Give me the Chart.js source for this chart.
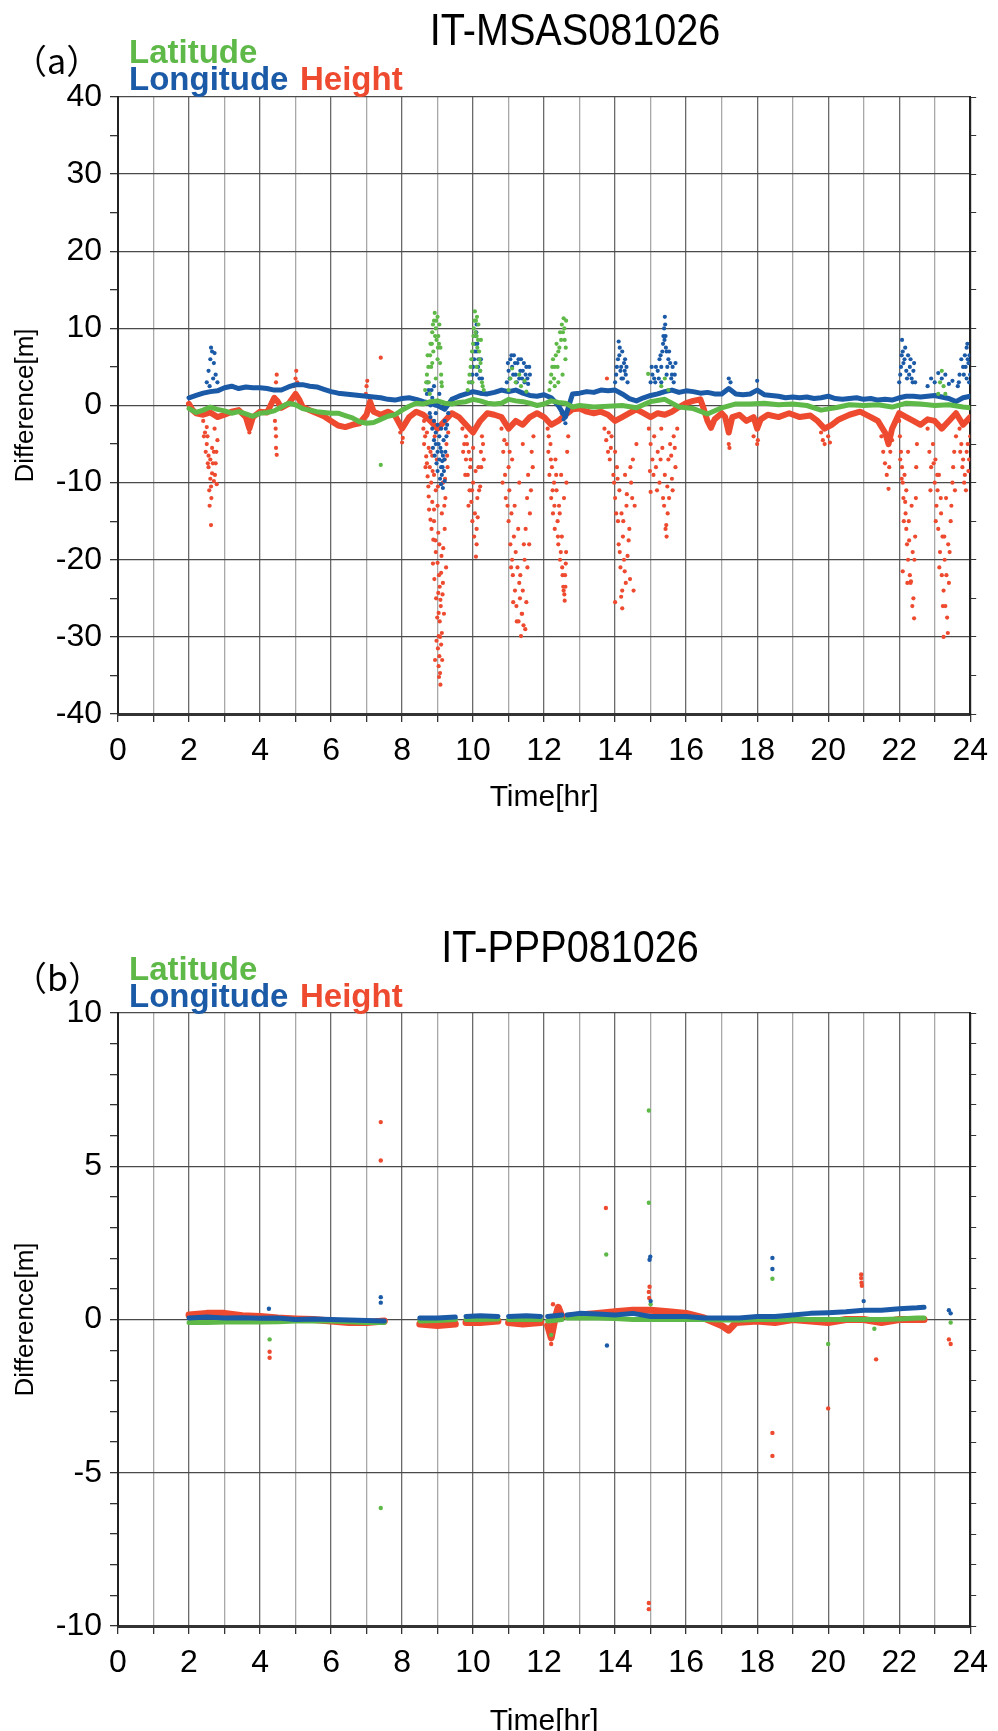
<!DOCTYPE html>
<html><head><meta charset="utf-8">
<script src="https://cdn.jsdelivr.net/npm/chart.js@4.4.0/dist/chart.umd.min.js"></script>
<style>
html,body{margin:0;padding:0;background:#fff;width:998px;height:1731px;overflow:hidden;position:relative}
canvas{position:absolute;left:0}
#c1{top:0}
#c2{top:917px}
</style></head><body>
<canvas id="c1" width="998" height="917"></canvas>
<canvas id="c2" width="998" height="830"></canvas>
<script>
// ---------- text ----------
const chartTitles = ['IT-MSAS081026', 'IT-PPP081026'];
const panelLabels = ['（a）', '（b）'];
const seriesNames = ['Latitude', 'Longitude', 'Height'];
const xAxisTitle = 'Time[hr]';
const yAxisTitle = 'Difference[m]';
// ---------- tick labels ----------
const hourLabels = [0, 2, 4, 6, 8, 10, 12, 14, 16, 18, 20, 22, 24];
const msasYLabels = [-40, -30, -20, -10, 0, 10, 20, 30, 40];
const pppYLabels = [-10, -5, 0, 5, 10];

// ---------- (a) IT-MSAS : continuous traces ----------
const msasLatLineT = [2.0,2.2,2.4,2.6,2.8,3.0,3.2,3.4,3.6,3.8,4.0,4.2,4.4,4.6,4.8,5.0,5.2,5.4,5.6,5.8,6.0,6.2,6.4,6.6,6.8,7.0,7.2,7.4,7.6,7.8,8.0,8.2,8.4,8.6,8.8,9.0,9.2,9.4,9.6,9.8,10.0,10.2,10.4,10.6,10.8,11.0,11.2,11.4,11.6,11.8,12.0,12.2,12.4,12.6,12.8,13.0,13.4,13.8,14.2,14.6,15.0,15.4,15.8,16.2,16.6,17.0,17.4,17.8,18.2,18.6,19.0,19.4,19.8,20.2,20.6,21.0,21.4,21.8,22.2,22.6,23.0,23.4,23.8,24.0];
const msasLatLineV = [-0.4,-0.9,-0.6,-0.2,-0.5,-0.7,-1.0,-0.8,-1.1,-1.4,-1.0,-0.9,-0.7,-0.2,0.3,0.1,-0.4,-0.6,-0.8,-0.9,-1.0,-1.0,-1.3,-1.6,-2.1,-2.3,-2.2,-1.8,-1.4,-1.2,-0.6,-0.1,0.3,0.2,0.5,0.6,0.3,0.2,0.4,0.5,0.8,0.6,0.3,0.2,0.3,0.8,0.6,0.5,0.3,0.0,0.2,0.6,0.4,0.3,-0.2,0.0,-0.2,-0.1,0.0,-0.3,0.5,0.8,-0.2,-0.4,-1.1,-0.3,0.2,0.2,0.3,0.1,0.2,0.0,-0.6,-0.3,0.1,0.0,0.1,-0.2,0.3,0.2,0.0,0.1,-0.2,-0.3];

const msasLonLineT = [2.0,2.2,2.4,2.6,2.8,3.0,3.2,3.4,3.6,3.8,4.0,4.2,4.4,4.6,4.8,5.0,5.2,5.4,5.6,5.8,6.0,6.2,6.4,6.6,6.8,7.0,7.2,7.4,7.6,7.8,8.0,8.2,8.4,8.6,8.8,9.0,9.2,9.4,9.6,9.8,10.0,10.2,10.4,10.6,10.8,11.0,11.2,11.4,11.6,11.8,12.0,12.2,12.4,12.6,12.8,13.0,13.2,13.4,13.6,13.8,14.0,14.2,14.4,14.6,14.8,15.0,15.2,15.4,15.6,15.8,16.0,16.2,16.4,16.6,16.8,17.0,17.2,17.4,17.6,17.8,18.0,18.2,18.4,18.6,18.8,19.0,19.2,19.4,19.6,19.8,20.0,20.2,20.4,20.6,20.8,21.0,21.2,21.4,21.6,21.8,22.0,22.2,22.4,22.6,22.8,23.0,23.2,23.4,23.6,23.8,24.0];
const msasLonLineV = [1.0,1.3,1.6,1.8,1.9,2.3,2.5,2.2,2.4,2.3,2.3,2.2,2.0,2.0,2.4,2.7,2.7,2.5,2.4,2.1,1.8,1.6,1.5,1.4,1.3,1.2,1.1,1.0,0.8,0.7,0.9,1.0,0.8,0.5,0.3,0.0,-0.5,0.8,1.2,1.5,1.8,1.6,1.5,1.7,2.0,1.8,2.0,1.6,1.3,1.2,1.4,1.0,0.0,-1.5,1.5,1.6,1.8,1.7,2.0,1.9,2.0,1.5,0.9,0.6,1.0,1.3,1.5,1.8,2.0,1.7,1.9,1.8,1.6,1.7,1.5,1.5,2.2,1.5,1.4,1.5,2.0,1.4,1.3,1.2,1.0,1.1,1.0,1.1,0.9,1.0,1.2,0.9,0.8,0.9,1.0,0.8,0.9,0.7,0.8,0.7,1.0,1.2,1.2,1.1,1.2,1.3,1.1,0.9,0.5,1.0,1.2];

const msasHgtLineT = [2.0,2.1,2.2,2.4,2.6,2.8,3.0,3.2,3.4,3.6,3.7,3.8,4.0,4.2,4.4,4.5,4.6,4.8,5.0,5.1,5.2,5.4,5.6,5.8,6.0,6.2,6.4,6.6,6.8,7.0,7.1,7.2,7.4,7.6,7.8,8.0,8.2,8.4,8.6,8.8,9.0,9.2,9.4,9.6,9.8,10.0,10.2,10.4,10.6,10.8,11.0,11.2,11.4,11.6,11.8,12.0,12.2,12.4,12.6,12.8,13.0,13.2,13.4,13.6,13.8,14.0,14.2,14.4,14.6,14.8,15.0,15.2,15.4,15.6,15.8,16.0,16.2,16.4,16.5,16.6,16.7,16.8,17.0,17.1,17.2,17.3,17.5,17.7,17.9,18.0,18.1,18.3,18.6,18.9,19.2,19.5,19.7,19.9,20.1,20.3,20.6,20.9,21.2,21.4,21.6,21.7,21.8,22.0,22.2,22.4,22.6,22.8,23.0,23.2,23.4,23.6,23.8,24.0];
const msasHgtLineV = [0.2,-0.6,-1.0,-1.2,-0.9,-1.5,-1.2,-0.8,-0.6,-1.5,-3.0,-1.5,-0.8,-0.9,1.0,0.5,-0.3,0.2,1.5,0.8,-0.2,-0.6,-1.0,-1.4,-2.0,-2.6,-2.8,-2.5,-2.3,-1.2,0.5,-0.8,-1.2,-0.8,-1.3,-3.0,-1.5,-0.8,-1.2,-2.0,-3.0,-2.0,-1.0,-1.5,-2.5,-3.5,-2.0,-1.0,-1.2,-1.5,-3.0,-2.0,-2.5,-1.5,-1.0,-1.5,-2.5,-2.0,-1.2,-0.5,-0.4,-0.8,-1.0,-0.8,-1.2,-2.0,-1.5,-1.0,-0.5,-1.0,-1.5,-1.0,-1.2,-0.8,-0.2,0.3,0.6,0.8,-0.5,-2.0,-2.9,-1.8,-1.0,-1.5,-3.5,-1.5,-1.2,-2.0,-1.5,-3.0,-1.8,-1.2,-1.5,-1.0,-1.5,-1.3,-2.0,-3.0,-2.5,-1.8,-1.2,-0.8,-1.5,-2.0,-3.5,-5.0,-3.0,-1.0,-1.5,-2.0,-2.5,-1.8,-2.0,-3.0,-2.0,-1.0,-2.5,-1.5];

// ---------- (a) IT-MSAS : scattered points ----------
const msasLatDotT = [7.4,8.65,8.7,8.72,8.75,8.8,8.82,8.85,8.88,8.9,8.92,8.95,8.97,9.0,9.02,9.05,9.08,9.1,9.12,8.78,8.95,9.0,8.85,
8.68,8.74,8.79,8.84,8.87,8.93,8.96,9.01,9.04,9.07,9.11,
9.85,9.9,9.95,10.0,10.02,10.05,10.08,10.1,10.12,10.15,10.18,10.2,10.25,10.3,9.98,10.1,10.22,
9.88,9.93,9.97,10.01,10.04,10.07,10.11,10.14,10.17,10.21,10.27,
11.0,11.05,11.1,11.2,11.3,11.35,11.45,11.5,
12.15,12.2,12.25,12.3,12.35,12.4,12.45,12.5,12.55,12.58,12.6,12.52,12.4,12.3,12.62,
12.18,12.23,12.28,12.33,12.38,12.43,12.48,12.53,12.57,12.61,
14.93,15.3,15.4,15.5,23.1,23.15,23.2,23.25,23.3];
const msasLatDotV = [-7.7,2,4,6.5,3,8,5,9.5,7,11,12,10,8.5,6,9,10.5,7.5,4,2.5,1.5,3.5,11.5,5.5,
3,5,6.5,8,10.5,9,11,7.5,8,5.5,3,
2,4,6,8,10,12.2,11,9,7.5,10.5,6,4.5,3,2,3,5,8.5,
3,5,7,9,11,9.5,11.5,8.5,7,5.5,2.5,
2,3.5,4.8,3,4,2.5,3.2,1.8,
2,4,6,5,8,7,9.5,10.5,11.3,8.5,6,4,3,2.5,11,
3,5,3.5,6.5,5,7.5,8.5,9.5,10,7.5,
4.1,2.5,3.5,2,1.5,3,4.5,2.5,1.5];

const msasLonDotT = [2.5,2.55,2.6,2.62,2.65,2.7,2.72,2.75,2.8,2.58,2.68,
8.75,8.8,8.8,8.85,8.85,8.9,8.9,8.95,8.95,8.95,9.0,9.0,9.0,9.05,9.05,9.08,9.1,9.1,9.12,9.15,9.15,9.18,9.2,9.2,9.25,9.3,8.7,8.9,9.05,9.22,9.0,8.92,9.13,9.1,
8.72,8.78,8.83,8.87,8.93,8.97,9.03,9.07,9.11,9.14,9.17,9.19,9.23,9.27,
9.95,10.0,10.05,10.08,10.1,10.12,10.15,10.2,10.25,10.1,9.98,10.03,10.06,10.09,10.11,10.14,10.18,10.22,
10.95,11.0,11.05,11.1,11.15,11.2,11.25,11.3,11.35,11.4,11.45,11.5,11.55,11.6,
10.98,11.03,11.08,11.13,11.18,11.23,11.28,11.33,11.38,11.43,11.48,11.53,11.58,
12.5,12.6,12.55,
14.0,14.05,14.1,14.12,14.15,14.2,14.25,14.3,14.35,14.18,14.28,14.03,14.08,14.13,14.17,14.22,14.27,14.32,
15.0,15.05,15.1,15.15,15.2,15.25,15.3,15.35,15.38,15.4,15.42,15.45,15.5,15.55,15.6,15.65,15.7,15.3,15.45,
15.03,15.13,15.23,15.28,15.33,15.36,15.39,15.41,15.43,15.47,15.52,15.58,15.62,15.68,
17.2,17.25,18.0,
22.0,22.05,22.08,22.1,22.15,22.2,22.25,22.3,22.35,22.4,22.45,22.03,22.07,22.12,22.17,22.22,22.28,22.32,22.38,22.42,
22.8,22.9,23.0,23.1,23.2,23.3,23.4,23.5,
23.65,23.7,23.8,23.85,23.9,23.92,23.95,23.98,23.9,24.0,23.68,23.75,23.82,23.87,23.93,23.97];
const msasLonDotV = [3,4.5,6,7.5,7,5.5,6.8,4,3,2.5,3.5,
2,0,-1.5,-3,1,-2,-4.5,-1,-5,-3.5,-2.5,-6,0.5,-4,-7,-5.5,-8,-3,-9,-10.7,-6.5,-8.5,-2,-9.8,-4,-1,1.5,2.5,1.5,-6,-8.5,-6.5,-7.2,-10.2,
3,-1,2,-5.5,0,-7.5,-5,-9.5,-6,-8,-4.5,-7,-3,-2.5,
3,5,7,9,10.5,8,6,4.5,3.5,4,4,6,8,9.5,7,5,3.5,6,
3,4.5,6,5,6.5,4,5.5,3.5,6,4.5,3,5,2.8,4,
5.5,3.5,6.5,4,5.5,3,6,4.5,3.5,5.5,4,3.5,5,
-1,-2.3,-1.8,
3,5,8.3,6.5,4.5,7,5.5,4,3,3.5,6,4,6,7.5,5,3.5,4.5,5,
3,4,3.5,5,4.5,6,5,8,10,11.5,9,7,6,5.5,4,3,5.5,3,4,
5,3,3.5,6.5,7,9,8.5,10.5,7.5,5,7,3.5,5,4,
3.5,3,3.2,
3,5,8.5,7,6,4.5,6.5,5,3.5,4.5,3,4,6.5,5.5,7.5,3.5,4,6,3,5.5,
2.5,3.5,3,4.2,3.5,4,2.8,3.2,
2.5,4,5,6.5,7.5,8,5.5,6.5,3.5,4,3,6,4,5,6,3];

const msasHgtDotT = [2.4,2.45,2.5,2.52,2.55,2.55,2.6,2.6,2.62,2.65,2.65,2.7,2.7,2.72,2.75,2.8,2.78,2.58,2.62,2.5,
2.42,2.47,2.53,2.57,2.63,2.67,2.73,2.77,
3.7,4.42,4.45,4.45,4.47,4.43,4.45,4.47,4.44,4.95,5.0,5.02,5.05,6.98,7.0,7.02,7.4,7.95,8.0,8.02,8.05,
8.6,8.62,8.65,8.68,8.7,8.72,8.75,8.75,8.78,8.8,8.82,8.85,8.85,8.88,8.9,8.9,8.92,8.95,8.95,8.98,9.0,9.0,9.02,9.02,9.03,9.03,9.04,9.05,9.05,9.06,9.07,9.08,9.08,9.1,9.1,9.12,9.12,9.15,9.15,9.18,9.2,9.2,9.22,9.25,9.28,9.3,8.93,8.97,
8.62,8.66,8.7,8.74,8.76,8.8,8.83,8.86,8.87,8.9,8.91,8.94,8.96,8.99,9.01,9.01,9.03,9.04,9.06,9.07,9.09,9.11,9.13,9.14,9.16,9.19,9.21,9.24,9.27,
9.7,9.75,9.8,9.8,9.85,9.88,9.9,9.92,9.95,10.0,10.0,10.05,10.08,10.1,10.12,10.15,10.2,10.22,10.25,10.3,10.1,9.98,
9.72,9.78,9.83,9.87,9.93,9.97,10.03,10.07,10.13,10.17,10.23,10.28,
10.8,10.85,10.9,10.92,10.95,11.0,11.0,11.02,11.05,11.08,11.1,11.12,11.15,11.18,11.2,11.22,11.25,11.28,11.3,11.32,11.35,11.38,11.4,11.42,11.45,11.48,11.5,11.52,11.55,11.6,11.65,11.7,11.1,11.3,11.4,
10.83,10.88,10.97,11.03,11.07,11.13,11.17,11.23,11.27,11.33,11.37,11.43,11.47,11.53,11.58,11.63,11.68,
12.1,12.12,12.15,12.18,12.2,12.22,12.25,12.28,12.3,12.32,12.35,12.38,12.4,12.42,12.45,12.48,12.5,12.52,12.55,12.58,12.6,12.62,12.65,12.68,12.56,
12.13,12.19,12.24,12.29,12.34,12.39,12.44,12.47,12.51,12.54,12.57,12.59,12.61,12.63,
13.77,13.7,13.75,13.8,13.85,13.9,13.95,14.0,14.0,14.05,14.08,14.1,14.12,14.15,14.18,14.2,14.2,14.22,14.25,14.28,14.3,14.32,14.35,14.4,14.42,14.45,14.5,14.55,14.6,14.0,
13.82,13.88,13.97,14.03,14.07,14.13,14.17,14.23,14.27,14.33,14.38,14.43,14.48,14.52,
14.95,15.0,15.0,15.05,15.1,15.15,15.2,15.25,15.3,15.35,15.4,15.42,15.45,15.48,15.5,15.55,15.6,15.65,15.7,15.75,
14.98,15.08,15.18,15.28,15.33,15.38,15.44,15.47,15.52,15.58,15.62,15.68,
17.2,17.22,17.9,18.0,18.02,19.8,19.85,19.9,20.0,20.05,21.5,21.55,21.6,21.65,21.7,21.72,21.75,21.8,
22.0,22.02,22.05,22.08,22.1,22.12,22.15,22.18,22.2,22.2,22.22,22.25,22.27,22.3,22.32,22.35,22.38,22.4,22.42,22.45,22.48,22.5,22.25,22.1,
22.03,22.07,22.13,22.17,22.23,22.28,22.33,22.37,22.43,22.47,
22.8,22.85,22.9,22.95,23.0,23.02,23.05,23.08,23.1,23.12,23.15,23.18,23.2,23.22,23.25,23.25,23.28,23.3,23.32,23.35,23.38,23.4,23.45,23.5,23.55,23.6,
22.88,22.97,23.03,23.07,23.13,23.17,23.23,23.27,23.33,23.37,23.42,23.47,23.52,23.57,
23.7,23.75,23.8,23.85,23.9,23.95,24.0,23.88,23.72,23.78,23.83,23.93,23.97];
const msasHgtDotV = [-2,-3.5,-5,-4,-6.5,-8,-7,-9.5,-10.5,-5.5,-8.8,-6,-9.8,-3,-7.5,-4.5,-10.2,-13,-15.5,-2.8,
-4,-6,-7.5,-11,-12,-7.5,-9,-6,
-3.5,-2,-4,-5.5,-6.4,2,3,4,-3,2.5,3.5,4.5,3,1.5,2.5,3.2,6.2,-3.5,-4.8,-4.2,-2.5,
-3,-5,-4,-6.6,-7.5,-9.2,-5.5,-11.8,-8,-14.8,-10,-6.5,-12.5,-17.4,-9,-15,-4,-11,-19,-7,-20.4,-13,-24.3,-16.5,-26.9,-29.9,-22,-32.5,-18,-28,-34.7,-36.2,-25.2,-21.7,-31,-29.5,-14,-23,-10,-27,-16,-7,-12,-5,-8,-3.5,-33,-30.5,
-2,-8,-3.5,-10.5,-13.5,-6,-16,-8.5,-20.5,-13.5,-22.5,-17.5,-25,-27.5,-31.5,-10.5,-33.8,-35.2,-23.5,-30,-26,-19.5,-33,-24.5,-18.5,-13,-9.5,-21,-6.5,
-3,-5,-7,-4,-9,-6,-11,-8,-12.5,-10,-5.5,-14,-19.6,-16,-12,-8,-10.5,-6,-4,-7,-18,-15,
-6,-9,-5,-13,-7,-11,-17,-8.5,-14.5,-11,-8,-5,
-3,-6,-9,-12,-5,-8,-15,-11,-18,-14,-20,-22,-17,-24,-19,-26,-21,-28,-23,-25,-29.9,-27,-24,-28.5,-20,-16,-25.5,-12,-9,-14,-6,-4,-7,-10,-5,
-10,-4.5,-13,-6,-21,-25.5,-13,-28,-16,-22,-27,-18,-29,-21,-18,-11,-8,
-3,-6,-9,-5,-12,-8,-14,-10,-16,-7,-11,-15,-18,-13,-20,-9,-17,-22,-24,-25.3,-23.5,-19,-6,-4,-12,
-4,-7,-11,-13,-9,-17,-14,-19,-21,-23.5,-24.5,-22,-20.5,-10,
3.5,-3,-4.5,-6,-7,-4,-9,-6,-12,-8,-15,-18,-11,-21,-14,-24,-26.3,-17,-20,-9,-23,-13,-19.5,-16,-22.5,-10,-7,-13,-5,-25.5,
-3.5,-5.5,-10,-14,-9.5,-19,-24.8,-15,-21.5,-11.5,-17.5,-8,-12,-24,
-3,-5,-11.2,-7,-4,-8,-6,-10,-3,-12,-9,-16,-17,-14,-7,-5,-9.5,-4,-8,-3,
-8.5,-9,-11,-7,-5.5,-13,-15.5,-10.5,-12,-6.5,-11,-5.5,
-5,-5.5,-4,-5,-4.5,-3.5,-4.5,-5,-4,-4.8,-4,-6,-7.5,-9,-10.8,-8,-6,-4.5,
-2,-4,-6,-8,-10,-12,-9,-14,-11,-16,-18,-20,-15,-22,-23,-13,-19,-25,-27.6,-17,-8,-5,-6,-21.5,
-7,-9.5,-15,-12.5,-23,-17.5,-22.8,-26,-20,-12,
-3,-6,-8,-5,-10,-7,-13,-11,-16,-9,-19,-14,-22,-17,-24,-30,-20,-26,-12,-27.5,-18,-23,-15,-10,-6,-4,
-11,-7.5,-15,-9,-21,-12,-26,-17,-22,-29.5,-19,-13,-8,-11,
-3,-5,-7,-9,-6,-8.5,-4,-11,-6,-8,-10,-5,-7];

// ---------- (b) IT-PPP : continuous traces (null = data gap) ----------
const pppSegT = [2.0,2.5,3.0,3.5,4.0,4.5,5.0,5.5,6.0,6.5,7.0,7.5,8.0,8.5,9.0,9.5,9.65,9.8,10.2,10.7,10.85,11.0,11.5,11.9,11.95,12.1,12.5,12.55,12.65,13.0,13.5,14.0,14.5,15.0,15.5,16.0,16.5,17.0,17.5,18.0,18.5,19.0,19.5,20.0,20.5,21.0,21.5,22.0,22.5,22.7];
const pppLonLineV = [0.05,0.08,0.05,0.06,0.04,0.05,0.0,0.02,0.0,-0.02,-0.03,-0.05,null,0.05,0.05,0.08,null,0.1,0.12,0.1,null,0.1,0.12,0.1,null,0.1,0.15,null,0.15,0.2,0.18,0.15,0.2,0.1,0.1,0.1,0.05,0.05,0.05,0.1,0.1,0.15,0.2,0.22,0.25,0.3,0.3,0.35,0.38,0.4];
const pppLatLineV = [-0.1,-0.1,-0.08,-0.08,-0.08,-0.07,-0.05,-0.05,-0.05,-0.07,-0.1,-0.1,null,-0.05,-0.03,0.0,null,0.0,0.0,0.02,null,0.0,0.0,0.0,null,-0.05,0.0,null,0.05,0.05,0.05,0.03,0.0,0.0,0.0,0.0,0.0,-0.02,-0.02,0.0,0.0,0.0,0.0,0.0,0.0,0.0,0.0,0.02,0.05,0.05];
const pppHgtLineT = [2.0,2.5,3.0,3.5,4.0,4.5,5.0,5.5,6.0,6.5,7.0,7.5,8.0,8.5,9.0,9.5,9.65,9.8,10.2,10.7,10.85,11.0,11.4,11.9,11.95,12.1,12.2,12.3,12.4,12.5,12.55,12.65,13.0,13.5,14.0,14.5,15.0,15.5,16.0,16.5,17.0,17.2,17.4,18.0,18.5,19.0,19.5,20.0,20.5,21.0,21.5,22.0,22.7];
const pppHgtLineV = [0.15,0.2,0.2,0.12,0.1,0.05,0.02,0.0,-0.05,-0.1,-0.1,-0.05,null,-0.15,-0.2,-0.15,null,-0.1,-0.1,-0.05,null,-0.1,-0.15,-0.1,null,-0.2,-0.6,0.0,0.4,0.1,null,0.1,0.15,0.2,0.25,0.3,0.3,0.25,0.2,0.05,-0.2,-0.35,-0.1,-0.05,-0.1,0.0,-0.05,-0.1,0.0,0.0,-0.1,0.0,0.0];

// ---------- (b) IT-PPP : scattered points ----------
const pppLatDotT = [4.27,7.4,13.75,14.95,14.95,18.43,20.0,21.3,23.45,12.2,15.0];
const pppLatDotV = [-0.65,-6.15,2.12,6.82,3.81,1.33,-0.8,-0.3,-0.1,-0.5,0.5];
const pppLonDotT = [4.25,7.4,7.4,13.77,14.97,14.99,15.0,18.43,18.43,23.4,23.45,21.0];
const pppLonDotV = [0.35,0.73,0.55,-0.85,1.95,2.05,0.6,2.01,1.65,0.3,0.2,0.6];
const pppHgtDotT = [4.27,4.27,7.4,7.4,13.74,14.95,14.95,14.97,14.95,14.96,18.43,18.43,20.0,20.93,20.93,20.94,20.95,21.35,23.4,23.45,12.2,12.25];
const pppHgtDotV = [-1.05,-1.25,6.44,5.19,3.64,-9.25,-9.45,1.07,0.9,0.7,-3.7,-4.45,-2.9,1.47,1.35,1.2,1.1,-1.3,-0.65,-0.8,-0.8,0.5];

// ---------- styling ----------
const FONT = '"Liberation Sans", Arial, Helvetica, sans-serif';
const GREEN = '#5fb948', BLUE = '#1b5aa7', RED = '#ee4a2f';

function pts(T, V) { return T.map((t, i) => ({ x: t, y: V[i] })); }

const headerPlugin = {
  id: 'header',
  afterDraw(chart, args, o) {
    const ctx = chart.ctx;
    ctx.save();
    ctx.textBaseline = 'alphabetic';
    ctx.fillStyle = '#000';
    ctx.font = '44px ' + FONT;
    ctx.textAlign = 'center';
    ctx.save();
    ctx.translate(o.titleX, 45);
    ctx.scale(0.9, 1);
    ctx.fillText(o.title, 0, 0);
    ctx.restore();
    ctx.font = '34px "Noto Sans CJK JP", sans-serif';
    ctx.textAlign = 'left';
    ctx.fillText(o.panel, 13, 74);
    ctx.font = 'bold 33px ' + FONT;
    ctx.fillStyle = GREEN; ctx.fillText(seriesNames[0], 129, 63);
    ctx.fillStyle = BLUE;  ctx.fillText(seriesNames[1], 129, 90);
    ctx.fillStyle = RED;   ctx.fillText(seriesNames[2], 300, 90);
    ctx.restore();
  }
};

function makeScales(ymin, ymax, ystep, ylabels, xHeight, xTitlePad) {
  return {
    x: {
      type: 'linear', min: 0, max: 24,
      ticks: { stepSize: 1, autoSkip: false, maxRotation: 0, padding: 10, color: '#000',
        font: { size: 32, family: FONT },
        callback: v => hourLabels.includes(v) ? String(v) : '' },
      grid: { color: c => (c.tick && c.tick.value % 2 === 0) ? '#6a6a6a' : '#a8a8a8',
        lineWidth: 1.3, tickLength: 8, tickColor: '#333' },
      border: { color: '#333', width: 3 },
      title: { display: true, text: xAxisTitle, color: '#000', font: { size: 30, family: FONT },
        padding: { top: 0, bottom: xTitlePad } },
      afterFit: s => { s.height = xHeight; }
    },
    y: {
      type: 'linear', min: ymin, max: ymax, position: 'left',
      ticks: { stepSize: ystep, autoSkip: false, padding: 8, color: '#000',
        font: { size: 32, family: FONT },
        callback: v => ylabels.includes(v) ? String(v) : '' },
      grid: { color: c => (c.tick && ylabels.includes(c.tick.value)) ? '#4a4a4a' : 'rgba(0,0,0,0)',
        lineWidth: 1.3, tickLength: 8, tickColor: '#333' },
      border: { color: '#222', width: 2 },
      title: { display: true, text: yAxisTitle, color: '#000', font: { size: 26, family: FONT },
        padding: { top: 10, bottom: 0 } },
      afterFit: s => { s.width = 118; }
    },
    yR: {
      type: 'linear', min: ymin, max: ymax, position: 'right',
      ticks: { stepSize: ystep, autoSkip: false, padding: 0, callback: () => '' },
      grid: { drawOnChartArea: false, tickLength: 6, tickColor: '#333' },
      border: { color: '#222', width: 2 },
      afterFit: s => { s.width = 22; }
    }
  };
}

function lineDs(T, V, color, w) {
  return { data: pts(T, V), showLine: true, spanGaps: false, borderColor: color, backgroundColor: color,
    borderWidth: w, pointRadius: 0, tension: 0, borderJoinStyle: 'round', borderCapStyle: 'round' };
}
function dotDs(T, V, color, r) {
  return { data: pts(T, V), showLine: false, borderColor: color, backgroundColor: color,
    pointRadius: r, borderWidth: 0 };
}

Chart.defaults.font.family = FONT;
Chart.defaults.animation = false;

new Chart(document.getElementById('c1'), {
  type: 'scatter',
  data: { datasets: [
    dotDs(msasLatDotT, msasLatDotV, GREEN, 2.1),
    lineDs(msasLatLineT, msasLatLineV, GREEN, 5),
    dotDs(msasLonDotT, msasLonDotV, BLUE, 2.1),
    lineDs(msasLonLineT, msasLonLineV, BLUE, 5),
    dotDs(msasHgtDotT, msasHgtDotV, RED, 2.1),
    lineDs(msasHgtLineT, msasHgtLineV, RED, 6)
  ]},
  options: {
    responsive: false, devicePixelRatio: 1, animation: false,
    layout: { padding: { left: 0, right: 0, top: 97, bottom: 0 } },
    plugins: { legend: { display: false }, tooltip: { enabled: false },
      header: { title: chartTitles[0], panel: panelLabels[0], titleX: 575 } },
    scales: makeScales(-40, 40, 5, msasYLabels, 203, 101)
  },
  plugins: [headerPlugin]
});

new Chart(document.getElementById('c2'), {
  type: 'scatter',
  data: { datasets: [
    dotDs(pppLonDotT, pppLonDotV, BLUE, 2.2),
    lineDs(pppSegT, pppLonLineV, BLUE, 5),
    dotDs(pppLatDotT, pppLatDotV, GREEN, 2.2),
    lineDs(pppSegT, pppLatLineV, GREEN, 5),
    dotDs(pppHgtDotT, pppHgtDotV, RED, 2.2),
    lineDs(pppHgtLineT, pppHgtLineV, RED, 7)
  ]},
  options: {
    responsive: false, devicePixelRatio: 1, animation: false,
    layout: { padding: { left: 0, right: 0, top: 96, bottom: 0 } },
    plugins: { legend: { display: false }, tooltip: { enabled: false },
      header: { title: chartTitles[1], panel: panelLabels[1], titleX: 570 } },
    scales: makeScales(-10, 10, 1, pppYLabels, 121, 7)
  },
  plugins: [headerPlugin]
});
</script>
</body></html>
